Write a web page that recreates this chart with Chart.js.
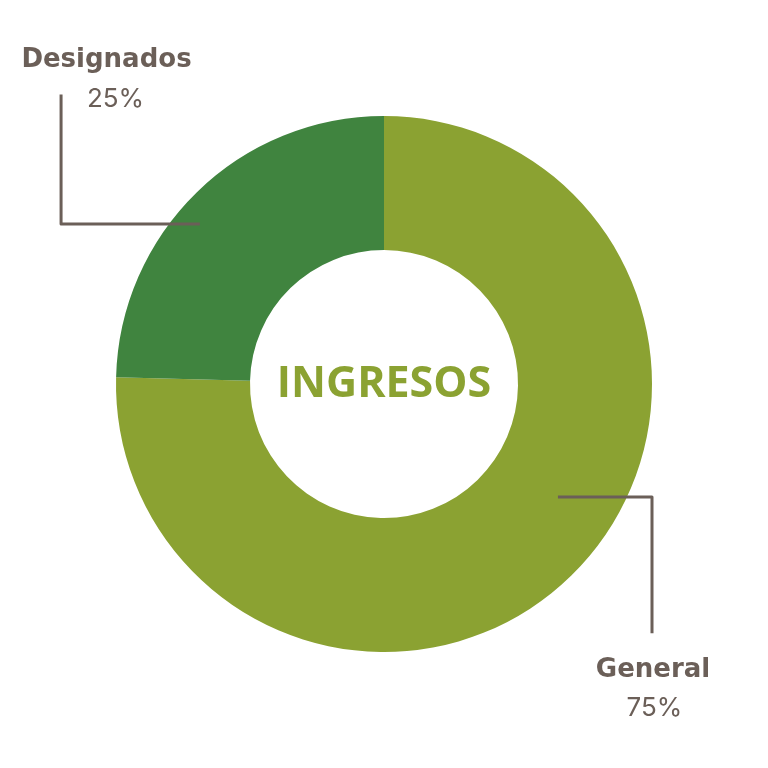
<!DOCTYPE html>
<html><head><meta charset="utf-8">
<script src="https://cdn.jsdelivr.net/npm/chart.js@4"></script>
<style>html,body{margin:0;padding:0;background:#fff;}#wrap{width:768px;height:768px;}</style>
</head><body><div id="wrap"><canvas id="c" width="768" height="768"></canvas></div>
<script>
const categories = ["General", "Designados"];
const values = [75.4, 24.6];
const percentLabels = ["75%", "25%"];
const centerTitle = "INGRESOS";
const colors = ["#8BA232", "#40843F"];

const textColor = "#6b5f58";

const overlay = {
  id: 'overlay',
  afterDraw(chart) {
    const ctx = chart.ctx;
    const arc = chart.getDatasetMeta(0).data[0];
    const cx = arc.x, cy = arc.y, R = arc.outerRadius;
    ctx.save();
    // center title
    ctx.fillStyle = colors[0];
    ctx.font = "bold 43px 'Open Sans'";
    ctx.textAlign = 'center';
    ctx.textBaseline = 'middle';
    ctx.fillText(centerTitle, cx, cy + 1);

    ctx.strokeStyle = textColor;
    ctx.lineWidth = 3;
    ctx.lineJoin = 'round';
    // General leader
    ctx.beginPath();
    ctx.moveTo(cx + 0.649 * R, cy + 0.422 * R);
    ctx.lineTo(cx + 1.0 * R, cy + 0.422 * R);
    ctx.lineTo(cx + 1.0 * R, cy + 0.93 * R);
    ctx.stroke();
    // Designados leader
    ctx.beginPath();
    ctx.moveTo(cx - 0.687 * R, cy - 0.597 * R);
    ctx.lineTo(cx - 1.205 * R, cy - 0.597 * R);
    ctx.lineTo(cx - 1.205 * R, cy - 1.08 * R);
    ctx.stroke();

    ctx.fillStyle = textColor;
    ctx.textBaseline = 'alphabetic';
    ctx.font = "bold 26px 'DejaVu Sans'";
    ctx.fillText(categories[0], 653, 677);
    ctx.fillText(categories[1], 106.5, 67);
    ctx.font = "26px Inter";
    ctx.fillText(percentLabels[0], 654.5, 716);
    ctx.fillText(percentLabels[1], 115.5, 107);
    ctx.restore();
  }
};

new Chart(document.getElementById('c'), {
  type: 'doughnut',
  data: {
    labels: categories,
    datasets: [{ data: values, backgroundColor: colors, borderWidth: 0 }]
  },
  options: {
    responsive: false,
    animation: false,
    cutout: '50%',
    layout: { padding: 116 },
    plugins: { legend: { display: false }, tooltip: { enabled: false } }
  },
  plugins: [overlay]
});
</script>
</body></html>
